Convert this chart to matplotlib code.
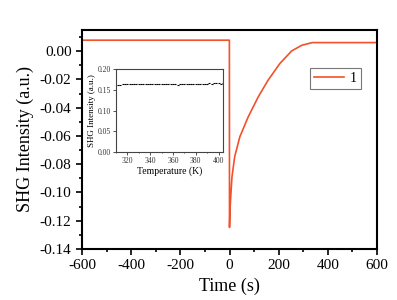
import numpy as np
import matplotlib.pyplot as plt
from matplotlib.ticker import MultipleLocator

plt.rcParams['font.family'] = ['Liberation Serif', 'DejaVu Serif']
plt.rcParams['axes.unicode_minus'] = False

# main trace: time (s) vs SHG intensity
time = [-600, -300, -0.5, 0, 2, 5, 10, 21, 42, 76, 117, 157, 205, 253, 294,
        337, 400, 500, 600]
shg = [0.0078, 0.0078, 0.0078, -0.1247, -0.112, -0.103, -0.089, -0.0747,
       -0.0606, -0.0465, -0.0323, -0.0205, -0.0087, 0.0002, 0.0042, 0.0061,
       0.0061, 0.0061, 0.0061]

# inset: temperature dependence
temp = [312, 314, 316, 318, 320, 322, 324, 326, 328, 330, 332, 334, 336, 338,
        340, 342, 344, 346, 348, 350, 352, 354, 356, 358, 360, 362, 364, 366,
        368, 370, 372, 374, 376, 378, 380, 382, 384, 386, 388, 390, 392, 394,
        396, 398, 400, 402, 404]
inset_val = [0.162, 0.162, 0.163, 0.164, 0.163, 0.164, 0.164, 0.165, 0.165,
             0.163, 0.164, 0.163, 0.164, 0.164, 0.165, 0.164, 0.163, 0.164,
             0.164, 0.163, 0.164, 0.164, 0.163, 0.163, 0.164, 0.163, 0.162,
             0.164, 0.165, 0.164, 0.165, 0.164, 0.163, 0.164, 0.164, 0.163,
             0.164, 0.165, 0.164, 0.165, 0.166, 0.165, 0.166, 0.166, 0.166,
             0.165, 0.166]

fig = plt.figure(figsize=(3.97, 3.0), dpi=100)
ax = fig.add_axes([0.2066, 0.17, 0.743, 0.73])
ax.plot(time, shg, color='#f4502a', lw=1.2, label='1')
ax.set_xlim(-600, 600)
ax.set_ylim(-0.14, 0.015)
ax.xaxis.set_major_locator(MultipleLocator(200))
ax.xaxis.set_minor_locator(MultipleLocator(100))
ax.yaxis.set_major_locator(MultipleLocator(0.02))
ax.yaxis.set_minor_locator(MultipleLocator(0.01))
ax.yaxis.set_major_formatter(plt.FuncFormatter(lambda v, p: '%.2f' % v))
ax.tick_params(which='both', direction='out', labelsize=11, width=1.2)
ax.tick_params(which='major', length=4)
ax.tick_params(which='minor', length=2.5)
for s in ax.spines.values():
    s.set_linewidth(1.5)
ax.set_xlabel('Time (s)', fontsize=13)
ax.set_ylabel('SHG Intensity (a.u.)', fontsize=13)
leg = ax.legend(loc='upper right', bbox_to_anchor=(0.97, 0.86), fontsize=10,
                fancybox=False, edgecolor='#555555', handlelength=2.2,
                borderpad=0.3, handletextpad=0.4)
leg.get_frame().set_linewidth(0.8)

ins = fig.add_axes([0.292, 0.493, 0.27, 0.277])
ins.plot(temp, inset_val, ls='none', marker='_', ms=2, mew=0.8, color='black')
ins.set_xlim(310, 404)
ins.set_ylim(0, 0.2)
ins.xaxis.set_major_locator(MultipleLocator(20))
ins.xaxis.set_minor_locator(MultipleLocator(10))
ins.yaxis.set_major_locator(MultipleLocator(0.05))
ins.yaxis.set_major_formatter(plt.FuncFormatter(lambda v, p: '%.2f' % v))
ins.tick_params(which='both', direction='out', labelsize=5.5, width=0.6,
                colors='#333333', pad=1.5)
ins.tick_params(which='major', length=2)
ins.tick_params(which='minor', length=1)
for s in ins.spines.values():
    s.set_linewidth(0.8)
    s.set_color('#444444')
ins.set_xlabel('Temperature (K)', fontsize=7, labelpad=1)
ins.set_ylabel('SHG Intensity (a.u.)', fontsize=6.5, labelpad=1)

fig.savefig('out.png', dpi=100)
